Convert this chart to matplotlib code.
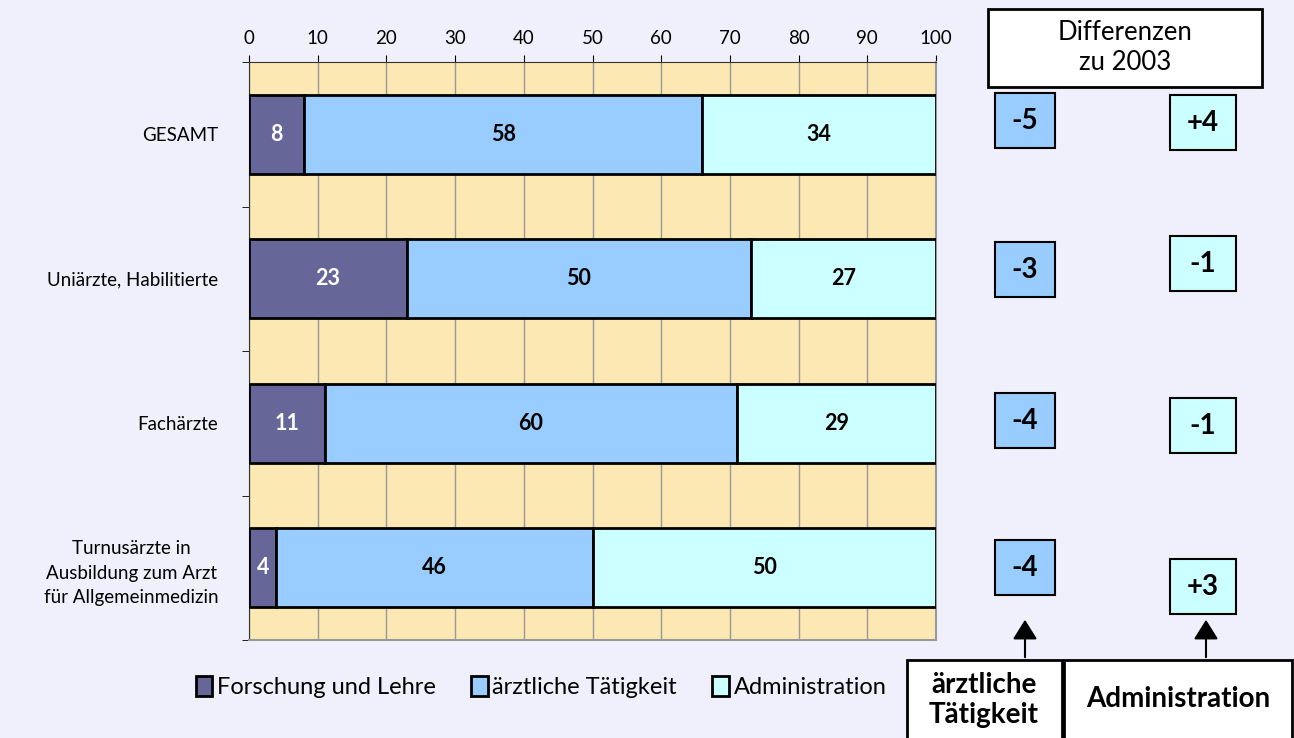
import numpy as np
import matplotlib
matplotlib.use("Agg")
import matplotlib.pyplot as plt
from matplotlib.patches import Rectangle, FancyArrowPatch

plt.rcParams['font.family'] = ['Lato', 'DejaVu Sans']

# data
categories = ["GESAMT", "Uniärzte, Habilitierte", "Fachärzte",
              "Turnusärzte in\nAusbildung zum Arzt\nfür Allgemeinmedizin"]
forschung = [8, 23, 11, 4]
aerztlich = [58, 50, 60, 46]
admin = [34, 27, 29, 50]
series_names = ["Forschung und Lehre", "ärztliche Tätigkeit", "Administration"]
diff_aerztlich = ["-5", "-3", "-4", "-4"]
diff_admin = ["+4", "-1", "-1", "+3"]

colors = ["#666699", "#99CCFF", "#CCFFFF"]
bg = "#F0F0FC"
plot_bg = "#FCE8B2"

W, H = 1294, 738
fig = plt.figure(figsize=(W / 100, H / 100), dpi=100, facecolor=bg)
ax = fig.add_axes([249 / W, 1 - 640 / H, 687 / W, 578 / H])
ax.set_facecolor(plot_bg)

y = np.arange(len(categories))
left = np.zeros(len(categories))
for vals, col, name in zip([forschung, aerztlich, admin], colors, series_names):
    ax.barh(y, vals, left=left, height=0.55, color=col, edgecolor="black",
            linewidth=2, label=name, zorder=3)
    for yi, l, v in zip(y, left, vals):
        txt_col = "white" if col == colors[0] else "black"
        ax.text(l + v / 2, yi, str(v), ha="center", va="center", fontsize=15.5,
                fontweight="bold", color=txt_col, zorder=4)
    left = left + np.array(vals)

ax.set_xlim(0, 100)
ax.set_ylim(len(categories) - 0.5, -0.5)
ax.set_xticks(np.arange(0, 101, 10))
ax.xaxis.tick_top()
ax.tick_params(axis="x", direction="out", length=5, labelsize=13.5, pad=6)
ax.grid(axis="x", color="#999999", linewidth=1, zorder=1)
ax.set_axisbelow(True)

ax.set_yticks(y)
ax.set_yticklabels(categories, fontsize=13.5, linespacing=1.55)
for lab in ax.get_yticklabels():
    lab.set_multialignment("center")
ax.set_yticks(np.arange(-0.5, len(categories)), minor=True)
ax.tick_params(axis="y", which="major", length=0, pad=22)
ax.tick_params(axis="y", which="minor", length=5, direction="out")
for s in ["top", "left"]:
    ax.spines[s].set_color("#333333")
for s in ["right", "bottom"]:
    ax.spines[s].set_color("#999999")
    ax.spines[s].set_linewidth(1.5)

fig.legend(loc="center", bbox_to_anchor=(541 / W, 1 - 687 / H), ncol=3,
           frameon=False, fontsize=17, handlelength=0.7, handleheight=0.9,
           handletextpad=0.2, columnspacing=1.5)


def fig_box(x0, y0, w, h, fc, lw=2):
    # box in pixel coords, y measured from top
    fig.patches.append(Rectangle((x0 / W, 1 - (y0 + h) / H), w / W, h / H,
                                 transform=fig.transFigure, facecolor=fc,
                                 edgecolor="black", linewidth=lw))


fig_box(988, 9, 274, 78, "white")
fig.text(1125 / W, 1 - 48 / H, "Differenzen\nzu 2003", ha="center", va="center",
         fontsize=18.5, linespacing=1.25)

# difference boxes, next to each category row
offs_a = [-13, -9, -2, 0]
offs_b = [-11, -15, 3, 19]
for yi, da, db, oa, ob in zip(y, diff_aerztlich, diff_admin, offs_a, offs_b):
    row_px = H - ax.transData.transform((0, yi))[1]
    for xc, val, off, w, col in [(1025, da, oa, 60, colors[1]),
                                 (1203, db, ob, 66, colors[2])]:
        cy = row_px + off
        fig_box(xc - w / 2, cy - 28, w, 55, col, lw=1.5)
        fig.text(xc / W, 1 - cy / H, val, ha="center", va="center",
                 fontsize=20, fontweight="bold")

# bottom labels with arrows
fig_box(907, 660, 155, 80, "white")
fig_box(1064, 660, 228, 80, "white")
fig.text(984 / W, 1 - 700 / H, "ärztliche\nTätigkeit", ha="center", va="center",
         fontsize=20, fontweight="bold", linespacing=1.2)
fig.text(1178 / W, 1 - 699 / H, "Administration", ha="center", va="center",
         fontsize=20, fontweight="bold")
for xc in [1025, 1206]:
    fig.add_artist(FancyArrowPatch(
        (xc / W, 1 - 660 / H), (xc / W, 1 - 617 / H), transform=fig.transFigure,
        arrowstyle="-|>,head_length=8,head_width=5", color="black", linewidth=1.5,
        mutation_scale=1.5))

fig.savefig("out.png", dpi=100, facecolor=bg)
